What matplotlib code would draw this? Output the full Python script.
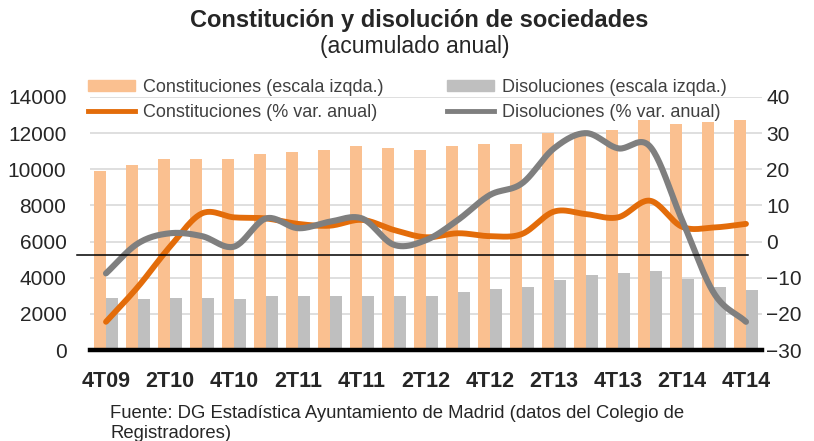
import numpy as np
import matplotlib
matplotlib.use("Agg")
import matplotlib.pyplot as plt
from matplotlib.lines import Line2D
from matplotlib.patches import Patch

plt.rcParams['font.family'] = ['Liberation Sans', 'DejaVu Sans']

quarters = ["4T09", "1T10", "2T10", "3T10", "4T10", "1T11", "2T11", "3T11", "4T11",
            "1T12", "2T12", "3T12", "4T12", "1T13", "2T13", "3T13", "4T13",
            "1T14", "2T14", "3T14", "4T14"]
constituciones = [9920, 10240, 10550, 10550, 10550, 10850, 10960, 11070, 11270,
                  11160, 11070, 11270, 11380, 11380, 11990, 12080, 12200,
                  12710, 12510, 12600, 12710]
disoluciones = [2900, 2800, 2900, 2900, 2800, 3000, 3000, 3000, 3000,
                3000, 3000, 3200, 3400, 3500, 3850, 4150, 4250,
                4350, 3950, 3500, 3300]
constit_var = [-22.2, -12.5, -1.4, 7.8, 6.7, 6.4, 4.9, 4.4, 6.0,
               3.2, 1.2, 2.3, 1.5, 2.1, 8.3, 7.6, 6.7,
               11.3, 4.1, 3.9, 4.9]
disol_var = [-8.8, -0.5, 2.3, 1.5, -1.4, 6.4, 3.7, 5.5, 6.4,
             -0.9, 0.4, 6.0, 12.9, 16.1, 25.8, 30.0, 25.8,
             26.3, 6.0, -14.3, -22.2]
tick_labels = ["4T09", "2T10", "4T10", "2T11", "4T11", "2T12", "4T12", "2T13",
               "4T13", "2T14", "4T14"]

C_BAR = "#FAC090"
D_BAR = "#BFBFBF"
C_LINE = "#E36C0A"
D_LINE = "#7F7F7F"
TXT = "#262626"


def smooth(x, y, n=24):
    x = np.asarray(x, float)
    y = np.asarray(y, float)
    px = np.concatenate([[2 * x[0] - x[1]], x, [2 * x[-1] - x[-2]]])
    py = np.concatenate([[2 * y[0] - y[1]], y, [2 * y[-1] - y[-2]]])
    xs, ys = [], []
    t = np.linspace(0, 1, n, endpoint=False)
    for i in range(1, len(px) - 2):
        for arr, out in ((px, xs), (py, ys)):
            p0, p1, p2, p3 = arr[i - 1], arr[i], arr[i + 1], arr[i + 2]
            seg = 0.5 * ((2 * p1) + (-p0 + p2) * t + (2 * p0 - 5 * p1 + 4 * p2 - p3) * t ** 2
                         + (-p0 + 3 * p1 - 3 * p2 + p3) * t ** 3)
            out.extend(seg)
    xs.append(x[-1])
    ys.append(y[-1])
    return np.array(xs), np.array(ys)


W, H = 814, 441
fig = plt.figure(figsize=(W / 100, H / 100), dpi=100)
ax = fig.add_axes([90 / W, 1 - 350 / H, 672 / W, 253 / H])
ax2 = ax.twinx()

x = np.arange(len(quarters))
bw = 0.36
ax.bar(x - bw / 2, constituciones, width=bw, color=C_BAR, zorder=2)
ax.bar(x + bw / 2, disoluciones, width=bw, color=D_BAR, zorder=2)
ax.set_ylim(0, 14000)
ax.set_xlim(-0.5, len(quarters) - 0.5)
ax.set_yticks(np.arange(0, 14001, 2000))
ax.yaxis.grid(True, color="#D9D9D9", lw=1.2, zorder=0)
ax.set_axisbelow(True)
ax.set_xticks(x[::2])
ax.set_xticklabels(tick_labels, fontsize=15.5, fontweight="bold", color=TXT)
ax.tick_params(axis="x", length=0, pad=15)
ax.tick_params(axis="y", length=0, labelsize=15, labelcolor=TXT, pad=17)
for s in ax.spines.values():
    s.set_visible(False)
for s in ax2.spines.values():
    s.set_visible(False)
ax.axhline(0, color="black", lw=3.2, zorder=5, clip_on=False)

sx, sy = smooth(x, constit_var)
ax2.plot(sx, sy, color=C_LINE, lw=4.2, solid_capstyle="round", zorder=4)
sx, sy = smooth(x, disol_var)
ax2.plot(sx, sy, color=D_LINE, lw=4.4, solid_capstyle="round", zorder=5)
ax2.set_ylim(-30, 40)
ax2.set_yticks(np.arange(-30, 41, 10))
ax2.tick_params(axis="y", length=0, labelsize=15, labelcolor=TXT, pad=3)

# thin black reference line
fig.add_artist(Line2D([77 / W, 748 / W], [1 - 255 / H, 1 - 255 / H],
                      color="black", lw=1.1, zorder=10))

legend_cols = [
    ([Patch(color=C_BAR), Line2D([], [], color=C_LINE, lw=3.5)],
     ["Constituciones (escala izqda.)", "Constituciones (% var. anual)"], 88),
    ([Patch(color=D_BAR), Line2D([], [], color=D_LINE, lw=3.5)],
     ["Disoluciones (escala izqda.)", "Disoluciones (% var. anual)"], 447),
]
for hs, ls, xpos in legend_cols:
    leg = fig.legend(hs, ls, ncol=1, loc="upper left",
                     bbox_to_anchor=(xpos / W, 1 - 79 / H), frameon=False,
                     fontsize=13, handlelength=2.6, handleheight=0.55,
                     handletextpad=0.45, labelspacing=0.42,
                     borderaxespad=0, borderpad=0)
    for t in leg.get_texts():
        t.set_color("#404040")

fig.text(419 / W, 1 - 20 / H, "Constitución y disolución de sociedades",
         ha="center", va="center", fontsize=17, fontweight="bold", color=TXT)
fig.text(415 / W, 1 - 47 / H, "(acumulado anual)", ha="center", va="center",
         fontsize=16.5, color=TXT)
fig.text(110 / W, 1 - 413 / H, "Fuente: DG Estadística Ayuntamiento de Madrid (datos del Colegio de",
         ha="left", va="center", fontsize=13.3, color=TXT)
fig.text(110 / W, 1 - 433 / H, "Registradores)",
         ha="left", va="center", fontsize=13.3, color=TXT)

fig.savefig("out.png", dpi=100)
